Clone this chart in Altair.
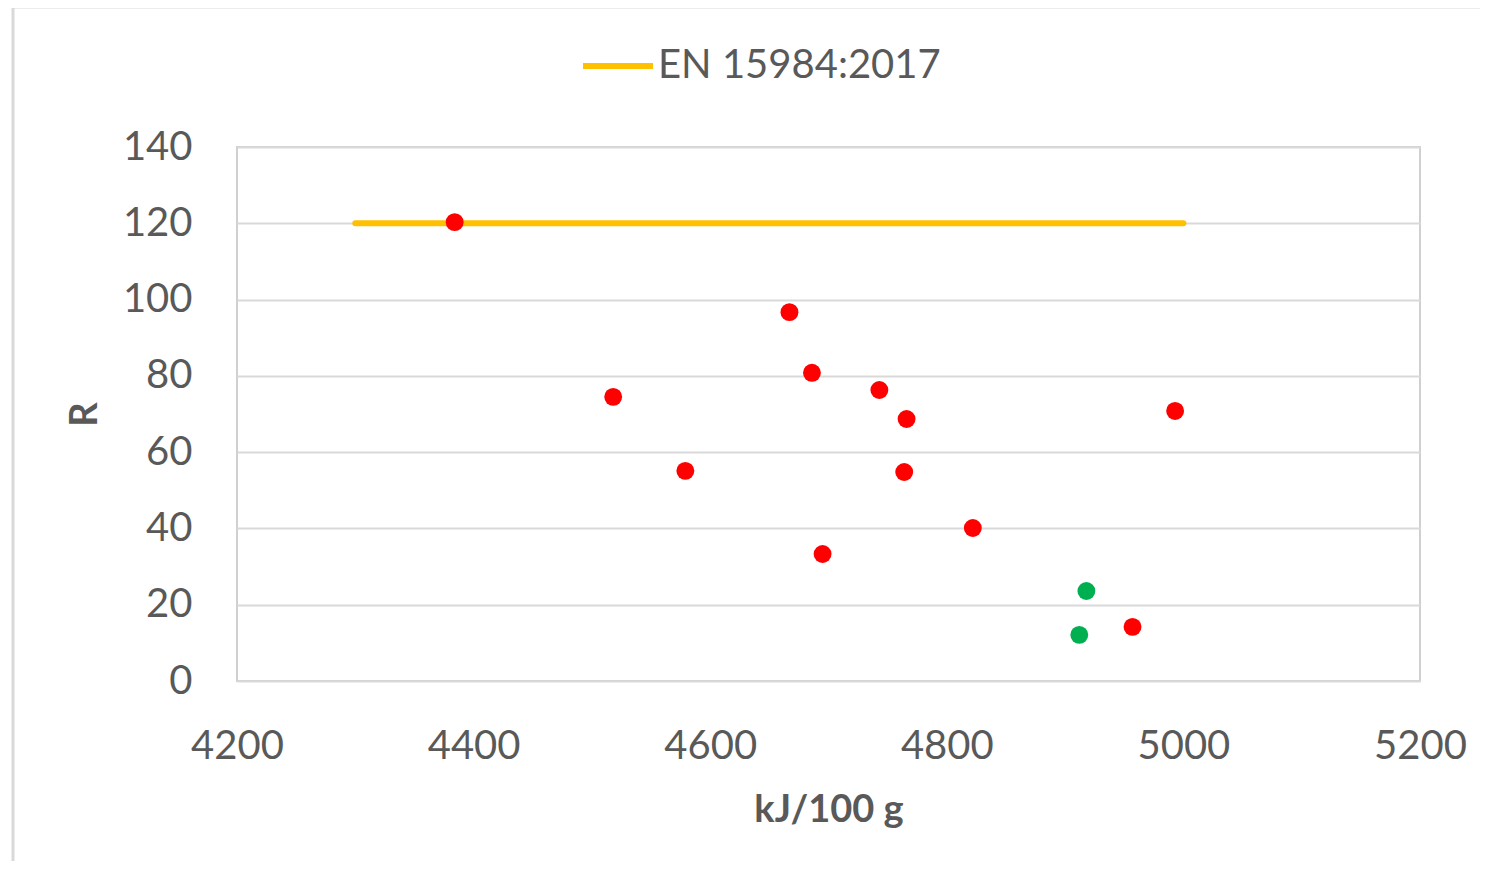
import altair as alt
import pandas as pd

# Measured points (red)
red_x = [4384, 4518, 4579, 4667, 4686, 4695, 4743, 4766, 4764, 4822, 4957, 4993]
red_y = [120.3, 74.5, 55.1, 96.7, 80.8, 33.3, 76.3, 68.7, 54.8, 40.1, 14.2, 70.8]
# Compliant points (green)
green_x = [4918, 4912]
green_y = [23.6, 12.1]
# Reference line EN 15984:2017
line_x = [4300, 5000]
line_y = [120, 120]
line_name = "EN 15984:2017"

pts = pd.DataFrame({
    "x": red_x + green_x,
    "y": red_y + green_y,
    "c": ["#FF0000"] * len(red_x) + ["#00B050"] * len(green_x),
})
ln = pd.DataFrame({"x": line_x, "y": line_y, "s": [line_name] * len(line_x)})

FONT = "Lato"
GREY = "#595959"
FS = 40

xscale = alt.Scale(domain=[4200, 5200], nice=False, zero=False)
yscale = alt.Scale(domain=[0, 140], nice=False)

xaxis = alt.Axis(values=[4200, 4400, 4600, 4800, 5000, 5200], format="d", grid=False, ticks=False,
                 domain=False, labelPadding=45, labelFontSize=FS, labelColor=GREY,
                 labelFont=FONT, title="kJ/100 g", titleFont=FONT, titleFontSize=38,
                 titleFontWeight="bold", titleColor=GREY, titlePadding=25,
                 labelFlush=False)
yaxis = alt.Axis(values=[0, 20, 40, 60, 80, 100, 120, 140], format="d", grid=True, gridColor="#d9d9d9",
                 gridWidth=2, ticks=False, domain=False, labelPadding=45, labelFontSize=FS,
                 labelColor=GREY, labelFont=FONT, title="R", titleFont=FONT,
                 titleFontSize=38, titleFontWeight="bold", titleColor=GREY, titlePadding=18)

line = alt.Chart(ln).mark_line(strokeWidth=6, strokeCap="round").encode(
    x=alt.X("x:Q", scale=xscale, axis=xaxis),
    y=alt.Y("y:Q", scale=yscale, axis=yaxis),
    stroke=alt.Stroke("s:N", scale=alt.Scale(domain=[line_name], range=["#FFC000"]),
                      legend=alt.Legend(title=None, orient="none", legendX=343, legendY=-119,
                                        symbolType="stroke", symbolSize=4900,
                                        symbolStrokeWidth=6, labelFontSize=FS,
                                        labelFont=FONT, labelColor=GREY, labelOffset=2,
                                        labelLimit=600)),
)

points = alt.Chart(pts).mark_circle(size=320, opacity=1).encode(
    x=alt.X("x:Q", scale=xscale),
    y=alt.Y("y:Q", scale=yscale),
    fill=alt.Fill("c:N", scale=None),
)

frame = alt.Chart(pd.DataFrame({"a": [0]})).mark_rect(
    fill=None, stroke="#d9d9d9", strokeWidth=3
).encode(x=alt.value(-224), x2=alt.value(1300), y=alt.value(-140), y2=alt.value(900))

chart = alt.layer(frame, line, points).properties(
    width=1183, height=534,
    autosize=alt.AutoSizeParams(type="none"),
    padding={"left": 229, "top": 139, "right": 60, "bottom": 180},
    background="white",
).configure_view(stroke="#d0d0d0", strokeWidth=2)

chart.save("out.html", embed_options={"renderer": "svg", "actions": False})
